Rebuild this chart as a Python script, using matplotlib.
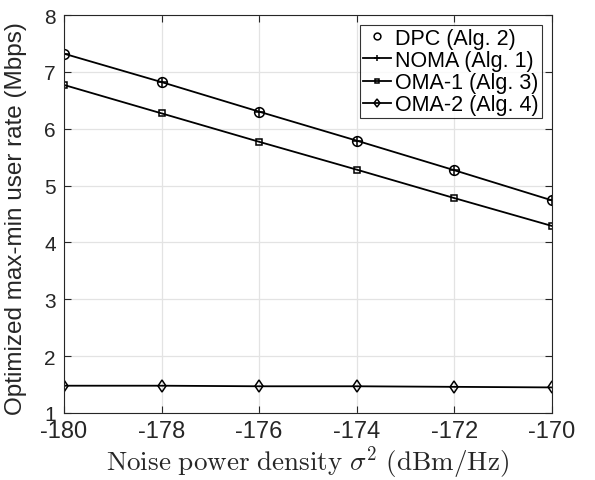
import matplotlib
matplotlib.use("Agg")
import matplotlib.pyplot as plt

noise_dbm = [-180, -178, -176, -174, -172, -170]
dpc = [7.32, 6.82, 6.30, 5.79, 5.27, 4.74]
noma = [7.32, 6.82, 6.30, 5.79, 5.27, 4.74]
oma1 = [6.77, 6.27, 5.77, 5.28, 4.78, 4.29]
oma2 = [1.48, 1.48, 1.47, 1.47, 1.46, 1.45]
xticks = [-180, -178, -176, -174, -172, -170]
yticks = [1, 2, 3, 4, 5, 6, 7, 8]

plt.rcParams['font.family'] = ['Liberation Sans', 'DejaVu Sans']
plt.rcParams['mathtext.fontset'] = 'cm'

fig = plt.figure(figsize=(5.95, 4.81), dpi=100)
ax = fig.add_axes([0.1076, 0.1393, 0.820, 0.8274])

ax.plot(noise_dbm, dpc, linestyle='none', marker='o', markersize=7, mfc='none',
        mec='black', mew=1.1, label='DPC (Alg. 2)')
ax.plot(noise_dbm, noma, color='black', lw=1.3, marker='+', markersize=7, mew=1.1,
        label='NOMA (Alg. 1)')
ax.plot(noise_dbm, oma1, color='black', lw=1.3, marker='s', markersize=4.5, mfc='none',
        mew=1.1, label='OMA-1 (Alg. 3)')
ax.plot(noise_dbm, oma2, color='black', lw=1.3, marker='d', markersize=6.5, mfc='none',
        mew=1.1, label='OMA-2 (Alg. 4)')

ax.set_xlim(-180, -170)
ax.set_ylim(1, 8)
ax.set_xticks(xticks)
ax.set_yticks(yticks)
ax.set_xticklabels([str(t) for t in xticks])
ax.set_yticklabels([str(t) for t in yticks])
ax.grid(True, color='#e3e3e3', lw=0.9)
ax.set_axisbelow(True)
ax.tick_params(direction='in', top=True, right=True, colors='#262626',
               length=5, width=0.8)
ax.tick_params(axis='x', labelsize=17, pad=5)
ax.tick_params(axis='y', labelsize=15, pad=6)
for s in ax.spines.values():
    s.set_color('#262626')
    s.set_linewidth(0.8)

ax.set_ylabel('Optimized max-min user rate (Mbps)', fontsize=17.5, color='#262626')
ax.yaxis.set_label_coords(-0.075, 0.49)
ax.set_xlabel(r'$\mathrm{Noise\ power\ density}\ \sigma^2\ \mathrm{(dBm/Hz)}$',
              fontsize=19.5, color='#262626', labelpad=1)

leg = ax.legend(loc='upper right', fontsize=15.5, frameon=True, fancybox=False,
                edgecolor='black', handlelength=1.3, handletextpad=0.2,
                borderpad=0.15, labelspacing=0.05, markerscale=0.7,
                borderaxespad=0.45)
leg.get_frame().set_linewidth(0.8)

fig.savefig('out.png', dpi=100)
